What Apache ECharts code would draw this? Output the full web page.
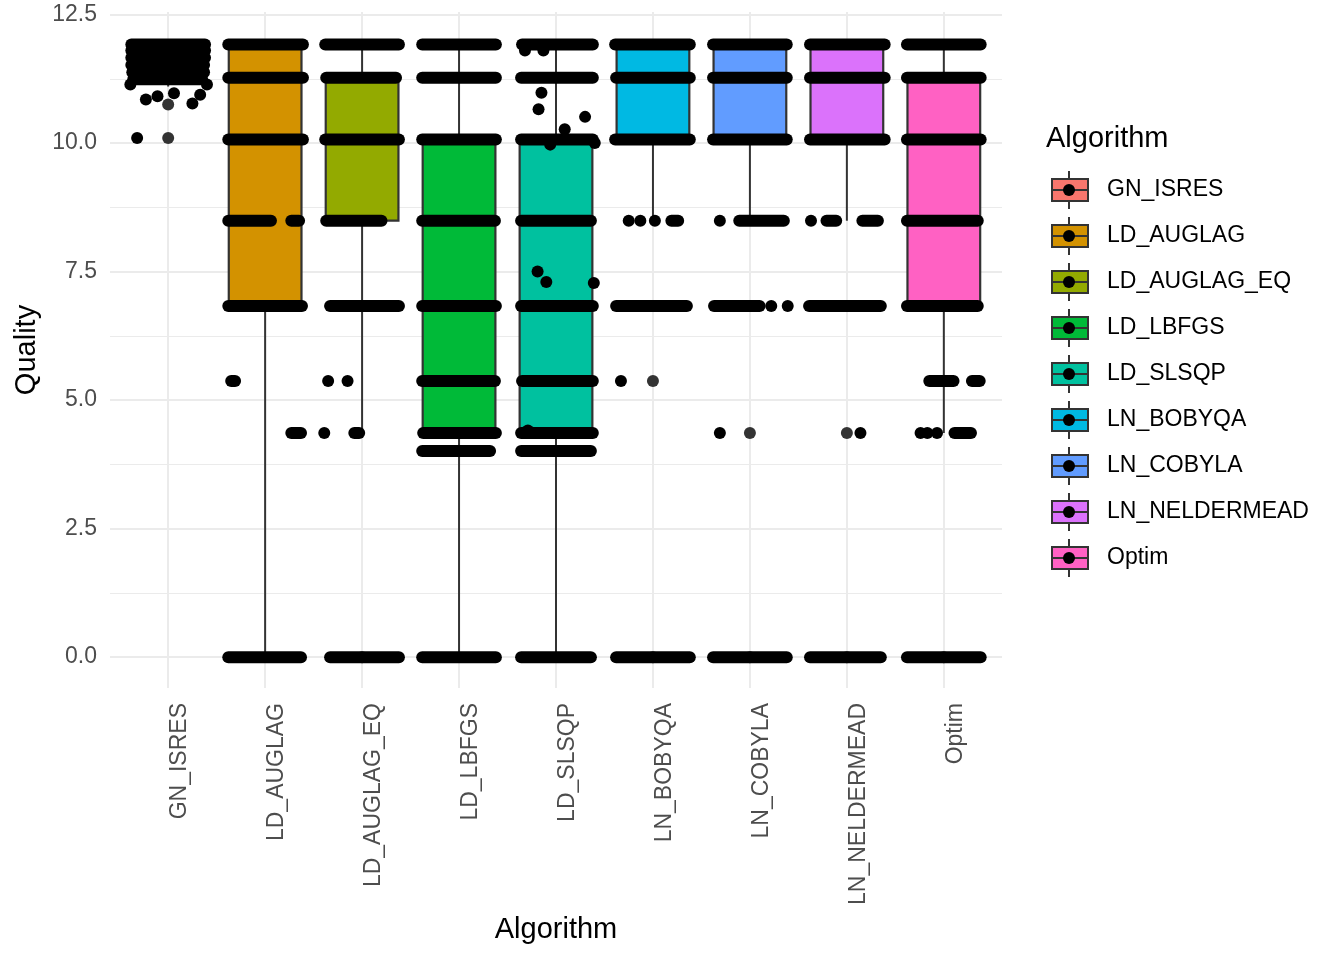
<!DOCTYPE html>
<html><head><meta charset="utf-8">
<script src="https://cdn.jsdelivr.net/npm/echarts@6/dist/echarts.min.js"></script>
<style>html,body{margin:0;padding:0;background:#fff}#c{width:1344px;height:960px}</style>
</head><body><div id="c"></div>
<script>
// ---- data ----
const categories = ['GN_ISRES','LD_AUGLAG','LD_AUGLAG_EQ','LD_LBFGS','LD_SLSQP','LN_BOBYQA','LN_COBYLA','LN_NELDERMEAD','Optim'];
const colors = ['#F8766D','#D39200','#93AA00','#00BA38','#00C19F','#00B9E3','#619CFF','#DB72FB','#FF61C3'];
const lowerWhisker = [11.10, 0, 4.36, 0, 0, 8.49, 8.49, 8.49, 4.36];
const q1 =           [11.40, 6.83, 8.49, 4.36, 4.36, 10.07, 10.07, 10.07, 6.83];
const median =       [11.70, 10.07, 10.07, 6.83, 6.83, 11.27, 11.27, 11.27, 8.49];
const q3 =           [11.92, 11.92, 11.27, 10.07, 10.07, 11.92, 11.92, 11.92, 11.27];
const upperWhisker = [11.95, 11.92, 11.92, 11.92, 11.92, 11.92, 11.92, 11.92, 11.92];
// dense runs of overlapping jittered points: [category index, Quality, jitter from, jitter to]
const pointRuns = [
  [0,11.92,-0.38,0.38],[0,11.80,-0.38,0.38],[0,11.66,-0.38,0.38],[0,11.52,-0.38,0.37],[0,11.38,-0.37,0.37],[0,11.24,-0.36,0.35],
  [1,11.92,-0.38,0.39],[1,11.27,-0.38,0.39],[1,10.07,-0.38,0.39],[1,8.49,-0.38,0.06],[1,8.49,0.27,0.35],[1,6.83,-0.38,0.38],[1,5.37,-0.35,-0.31],[1,4.36,0.27,0.37],[1,0,-0.38,0.37],
  [2,11.92,-0.38,0.38],[2,11.27,-0.37,0.35],[2,10.07,-0.38,0.38],[2,8.49,-0.37,0.20],[2,6.83,-0.33,0.38],[2,4.36,-0.08,-0.03],[2,0,-0.33,0.38],
  [3,11.92,-0.38,0.38],[3,11.27,-0.38,0.38],[3,10.07,-0.38,0.38],[3,8.49,-0.38,0.37],[3,6.83,-0.38,0.38],[3,5.37,-0.38,0.37],[3,4.36,-0.37,0.38],[3,4.01,-0.38,0.32],[3,0,-0.38,0.38],
  [4,11.92,-0.35,0.38],[4,11.27,-0.36,0.38],[4,10.07,-0.36,0.38],[4,8.49,-0.36,0.36],[4,6.83,-0.36,0.38],[4,5.37,-0.35,0.38],[4,4.36,-0.36,0.38],[4,4.01,-0.36,0.36],[4,0,-0.36,0.36],
  [5,11.92,-0.39,0.38],[5,11.27,-0.38,0.38],[5,10.07,-0.39,0.38],[5,8.49,0.19,0.26],[5,6.83,-0.38,0.35],[5,0,-0.38,0.38],
  [6,11.92,-0.38,0.38],[6,11.27,-0.38,0.38],[6,10.07,-0.38,0.38],[6,8.49,-0.11,0.35],[6,6.83,-0.37,0.10],[6,0,-0.38,0.38],
  [7,11.92,-0.38,0.39],[7,11.27,-0.38,0.39],[7,10.07,-0.38,0.39],[7,8.49,-0.21,-0.11],[7,8.49,0.16,0.32],[7,6.83,-0.39,0.35],[7,0,-0.38,0.35],
  [8,11.92,-0.38,0.38],[8,11.27,-0.38,0.38],[8,10.07,-0.38,0.38],[8,8.49,-0.38,0.35],[8,6.83,-0.38,0.35],[8,5.37,-0.15,0.10],[8,5.37,0.29,0.37],[8,4.36,0.11,0.28],[8,0,-0.38,0.38]
];
// isolated jittered points: [category index, jitter, Quality]
const singlePoints = [
  [0,-0.39,11.14],[0,-0.23,10.85],[0,-0.11,10.91],[0,0.06,10.97],[0,0.25,10.77],[0,0.33,10.94],[0,0.40,11.14],[0,-0.32,10.10],
  [2,-0.35,5.37],[2,-0.15,5.37],[2,-0.39,4.36],
  [4,-0.32,11.80],[4,-0.13,11.80],[4,-0.15,10.98],[4,-0.18,10.66],[4,0.30,10.51],[4,0.09,10.27],[4,-0.06,9.97],[4,0.40,10.0],[4,-0.19,7.50],[4,-0.10,7.30],[4,0.39,7.28],[4,-0.29,4.41],
  [5,-0.25,8.49],[5,-0.13,8.49],[5,0.02,8.49],[5,-0.33,5.37],
  [6,-0.31,8.49],[6,0.22,6.83],[6,0.39,6.83],[6,-0.31,4.36],
  [7,-0.37,8.49],[7,0.14,4.36],
  [8,-0.24,4.36],[8,-0.17,4.36],[8,-0.07,4.36]
];
// boxplot outliers: [category index, Quality]
const outliers = [[0,10.10],[0,10.75],[2,0],[5,6.83],[5,5.37],[5,0],[6,6.83],[6,4.36],[6,0],[7,6.83],[7,4.36],[7,0],[8,0]];
const yMajorTicks = [0, 2.5, 5, 7.5, 10, 12.5];
const yMinorTicks = [1.25, 3.75, 6.25, 8.75, 11.25];
const xTicks = categories.map((c, i) => i + 1);

// ---- chart ----
const FONT = '"Liberation Sans", Arial, sans-serif';
const chart = echarts.init(document.getElementById('c'), null, {renderer: 'canvas'});

function renderBox(params, api) {
  const x = api.value(0);
  const half = 0.375;
  const pLow = api.coord([x, api.value(1)]);
  const pQ1 = api.coord([x, api.value(2)]);
  const pMed = api.coord([x, api.value(3)]);
  const pQ3 = api.coord([x, api.value(4)]);
  const pHigh = api.coord([x, api.value(5)]);
  const left = api.coord([x - half, 0])[0];
  const right = api.coord([x + half, 0])[0];
  const color = api.visual('color');
  const ls = {stroke: '#333333', lineWidth: 2};
  return {type: 'group', children: [
    {type: 'line', shape: {x1: pLow[0], y1: pLow[1], x2: pQ1[0], y2: pQ1[1]}, style: ls},
    {type: 'line', shape: {x1: pQ3[0], y1: pQ3[1], x2: pHigh[0], y2: pHigh[1]}, style: ls},
    {type: 'rect', shape: {x: left, y: pQ3[1], width: right - left, height: pQ1[1] - pQ3[1]}, style: {fill: color, stroke: '#333333', lineWidth: 2.2}},
    {type: 'line', shape: {x1: left, y1: pMed[1], x2: right, y2: pMed[1]}, style: {stroke: '#333333', lineWidth: 3}}
  ]};
}

function renderRun(params, api) {
  const x = api.value(0) + 1;
  const y = api.value(1);
  const p0 = api.coord([x + api.value(2), y]);
  const p1 = api.coord([x + api.value(3), y]);
  return {type: 'line', shape: {x1: p0[0], y1: p0[1], x2: p1[0], y2: p1[1]},
    style: {stroke: '#000000', lineWidth: 12, lineCap: 'round'}};
}

const series = [];
categories.forEach((name, i) => {
  series.push({
    type: 'custom', name: name, renderItem: renderBox,
    itemStyle: {color: colors[i], borderColor: '#333333', borderWidth: 2},
    encode: {x: 0, y: [1, 2, 3, 4, 5]},
    data: [[i + 1, lowerWhisker[i], q1[i], median[i], q3[i], upperWhisker[i]]],
    z: 2
  });
});
series.push({
  type: 'scatter', name: 'outliers', symbolSize: 12, itemStyle: {color: '#333333', opacity: 1},
  data: outliers.map(d => [d[0] + 1, d[1]]), z: 3
});
series.push({
  type: 'custom', name: 'runs', renderItem: renderRun,
  encode: {x: 0, y: 1}, data: pointRuns, z: 4
});
series.push({
  type: 'scatter', name: 'points', symbolSize: 12, itemStyle: {color: '#000000', opacity: 1},
  data: singlePoints.map(d => [d[0] + 1 + d[1], d[2]]), z: 5
});

// legend key overlays (whisker, median, dot)
const legTop = 178, legLeft = 1051, keyW = 36, keyH = 22, legPitch = 46, legItemH = 24;
const legendGraphics = [];
categories.forEach((c, i) => {
  const cy = legTop + legItemH / 2 + legPitch * i;
  const cx = legLeft + keyW / 2;
  legendGraphics.push(
    {type: 'line', z: 100, shape: {x1: cx, y1: cy - keyH / 2 - 8, x2: cx, y2: cy - keyH / 2}, style: {stroke: '#333333', lineWidth: 2}},
    {type: 'line', z: 100, shape: {x1: cx, y1: cy + keyH / 2, x2: cx, y2: cy + keyH / 2 + 8}, style: {stroke: '#333333', lineWidth: 2}},
    {type: 'line', z: 100, shape: {x1: legLeft, y1: cy, x2: legLeft + keyW, y2: cy}, style: {stroke: '#333333', lineWidth: 2}},
    {type: 'circle', z: 101, shape: {cx: cx, cy: cy, r: 6}, style: {fill: '#000000'}}
  );
});

const option = {
  animation: false,
  backgroundColor: '#ffffff',
  textStyle: {fontFamily: FONT},
  title: {text: 'Algorithm', left: 1041, top: 119,
    textStyle: {fontSize: 29, fontWeight: 'normal', color: '#000000', fontFamily: FONT}},
  legend: {
    data: categories, orient: 'vertical', left: legLeft, top: legTop, padding: 0,
    itemWidth: keyW, itemHeight: keyH, itemGap: legPitch - legItemH, icon: 'rect',
    itemStyle: {borderColor: '#333333', borderWidth: 2},
    textStyle: {fontSize: 23, color: '#000000', fontFamily: FONT, lineHeight: 22, padding: [0, 0, 0, 14]},
    selectedMode: false
  },
  graphic: legendGraphics,
  grid: {left: 110, right: 342, top: 12, bottom: 272, containLabel: false},
  xAxis: {
    type: 'value', min: 0.4, max: 9.6,
    name: 'Algorithm', nameLocation: 'middle', nameGap: 227,
    nameTextStyle: {fontSize: 29, color: '#000000', fontFamily: FONT},
    axisLine: {show: false},
    axisTick: {show: false, customValues: xTicks},
    axisLabel: {customValues: xTicks, rotate: 90, margin: 15, fontSize: 23, color: '#4d4d4d', fontFamily: FONT,
      verticalAlign: 'top', formatter: v => categories[Math.round(v) - 1] || ''},
    splitLine: {show: true, lineStyle: {color: '#ebebeb', width: 2}}
  },
  yAxis: [{
    type: 'value', min: -0.6, max: 12.55,
    name: 'Quality', nameLocation: 'middle', nameGap: 66, nameRotate: 90,
    nameTextStyle: {fontSize: 29, color: '#000000', fontFamily: FONT},
    axisLine: {show: false},
    axisTick: {show: false, customValues: yMajorTicks},
    axisLabel: {customValues: yMajorTicks, margin: 13, fontSize: 23, color: '#4d4d4d', fontFamily: FONT,
      padding: [4, 0, 0, 0], formatter: v => v.toFixed(1)},
    splitLine: {show: true, lineStyle: {color: '#ebebeb', width: 2}}
  }, {
    type: 'value', min: -0.6, max: 12.55, position: 'left',
    axisLine: {show: false},
    axisTick: {show: false, customValues: yMinorTicks},
    axisLabel: {show: false, customValues: yMinorTicks},
    splitLine: {show: true, lineStyle: {color: '#ebebeb', width: 1.2}}
  }],
  series: series
};
chart.setOption(option);
</script></body></html>
